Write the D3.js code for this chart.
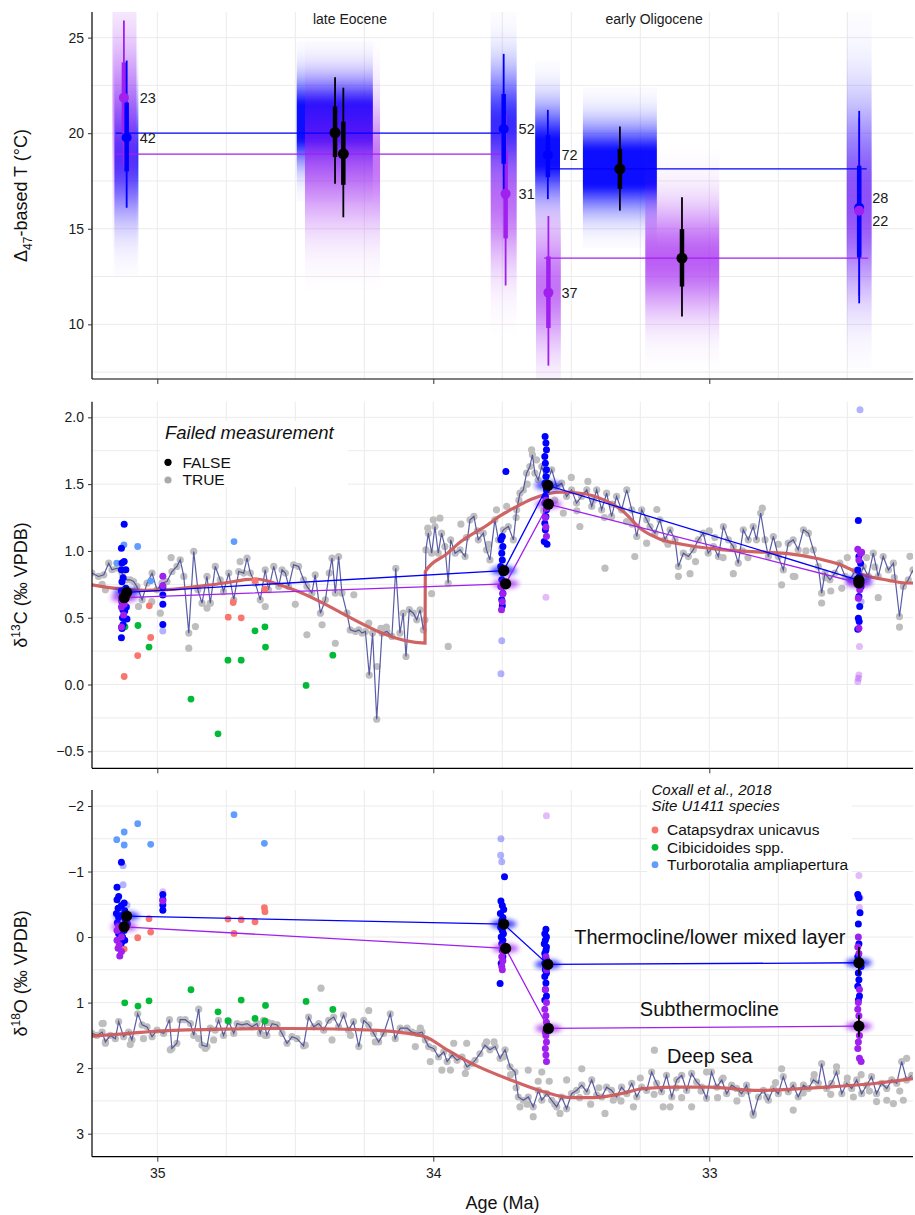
<!DOCTYPE html>
<html><head><meta charset="utf-8">
<script src="https://cdn.jsdelivr.net/npm/d3@7"></script>
<style>body{margin:0;background:#fff} svg{font-family:"Liberation Sans",Arial,Helvetica,sans-serif}</style>
</head><body><svg id="c" width="915" height="1215"></svg>
<script>
// ---------------- DATA ----------------
const ageTicks = [35, 34, 33];
const tTicks = [10, 15, 20, 25];
const c13Ticks = [-0.5, 0, 0.5, 1, 1.5, 2];
const o18Ticks = [-2, -1, 0, 1, 2, 3];
const epochLabels = [["late Eocene", 34.302], ["early Oligocene", 33.20]];

// Panel 1: [age, mean, lo95, lo66, hi66, hi95, n]
const thermoT = [[35.111,19.77,16.1,18.0,21.6,23.8,"42"],[33.745,20.22,16.6,18.4,22.05,24.15,"52"],[33.585,18.86,16.55,17.7,19.9,21.22,"72"],[32.457,16.1,11.1,13.5,18.3,21.17,"28"]];
const subT = [[35.121,21.86,18.2,20.0,23.7,25.9,"23"],[33.738,16.83,12.03,14.5,19.1,21.0,"31"],[33.583,11.66,7.84,9.81,13.55,15.67,"37"],[32.457,15.94,11.5,13.63,18.25,20.8,"22"]];
const epochT = [[34.356,20.03,17.35,18.75,21.4,22.93],[34.326,18.92,15.6,17.3,20.6,22.38],[33.324,18.13,15.95,17.09,19.18,20.35],[33.099,13.46,10.41,11.98,14.98,16.65]];
// bands: [age, half-width (Ma), mean, sd]
const thermoBands = [[35.112,0.0435,18.8,2.1],[34.357,0.138,20.6,1.4],[33.745,0.047,20.4,2.0],[33.586,0.045,19.0,1.6],[33.324,0.134,18.2,1.4],[32.457,0.045,17.2,3.2]];
const subBands = [[35.119,0.0435,21.3,2.9],[34.329,0.136,18.4,2.2],[33.745,0.047,16.4,2.3],[33.583,0.045,12.0,2.2],[33.098,0.134,13.4,1.9],[32.457,0.045,15.8,2.7]];
const thermoEpochLines = [[35.151,33.758,20.0],[33.577,32.430,18.13]];
const subEpochLines = [[35.151,33.752,18.9],[33.598,32.424,13.46]];

// Panel 2: deep-sea d13C record
const deep13 = [[35.237,0.834],[35.213,0.809],[35.194,0.821],[35.176,0.908],[35.164,0.859],[35.146,0.871],[35.128,0.834],[35.110,0.784],[35.098,0.784],[35.086,0.771],[35.074,0.734],[35.055,0.634],[35.037,0.759],[35.019,0.834],[35.001,0.709],[34.983,0.759],[34.965,0.771],[34.947,0.846],[34.929,0.884],[34.917,0.933],[34.904,0.809],[34.886,0.385],[34.868,0.996],[34.853,0.709],[34.838,0.609],[34.820,0.809],[34.808,0.609],[34.790,0.884],[34.772,0.784],[34.760,0.696],[34.741,0.834],[34.723,0.634],[34.705,0.846],[34.687,0.834],[34.675,0.946],[34.663,0.834],[34.645,0.759],[34.627,0.634],[34.609,0.859],[34.597,0.709],[34.578,0.884],[34.560,0.734],[34.548,0.859],[34.536,0.834],[34.524,0.734],[34.506,0.896],[34.488,0.884],[34.470,0.784],[34.458,0.734],[34.440,0.684],[34.428,0.821],[34.409,0.534],[34.391,0.634],[34.377,0.834],[34.367,0.946],[34.355,0.684],[34.343,0.958],[34.331,0.684],[34.313,0.534],[34.301,0.409],[34.282,0.397],[34.270,0.409],[34.258,0.385],[34.246,0.397],[34.232,0.07],[34.220,0.385],[34.205,-0.26],[34.186,0.385],[34.168,0.397],[34.150,0.360],[34.136,0.87],[34.121,0.385],[34.109,0.534],[34.099,0.21],[34.087,0.56],[34.072,0.534],[34.060,0.484],[34.048,0.559],[34.036,0.409],[34.030,0.484],[34.027,1.008],[34.018,1.133],[34.006,0.983],[33.994,1.183],[33.982,0.983],[33.970,1.133],[33.958,1.033],[33.946,0.759],[33.937,1.083],[33.921,0.983],[33.903,1.008],[33.885,0.958],[33.867,1.233],[33.853,1.258],[33.837,1.083],[33.819,1.133],[33.807,1.008],[33.795,0.933],[33.777,1.233],[33.764,1.083],[33.746,1.158],[33.728,1.183],[33.710,1.083],[33.698,1.308],[33.686,1.432],[33.674,1.457],[33.662,1.582],[33.650,1.632],[33.641,1.719],[33.632,1.582],[33.620,1.532],[33.607,1.632],[33.589,1.507],[33.571,1.607],[33.553,1.482],[33.535,1.507],[33.517,1.408],[33.499,1.457],[33.481,1.358],[33.463,1.408],[33.444,1.457],[33.426,1.333],[33.408,1.457],[33.390,1.308],[33.372,1.432],[33.354,1.258],[33.336,1.408],[33.318,1.308],[33.299,1.457],[33.281,1.308],[33.263,1.108],[33.245,1.308],[33.227,1.233],[33.215,1.183],[33.197,1.133],[33.179,1.233],[33.161,1.083],[33.142,1.158],[33.124,1.083],[33.112,0.883],[33.094,0.983],[33.076,0.958],[33.058,1.008],[33.040,1.083],[33.022,1.133],[33.004,0.983],[32.985,1.033],[32.967,0.958],[32.949,1.183],[32.931,1.083],[32.913,1.033],[32.895,0.908],[32.877,1.158],[32.859,1.083],[32.841,1.183],[32.829,1.083],[32.814,1.283],[32.798,1.083],[32.786,0.958],[32.768,1.108],[32.750,0.958],[32.732,0.858],[32.714,1.058],[32.696,1.083],[32.678,1.008],[32.659,1.158],[32.641,1.133],[32.623,1.008],[32.605,0.883],[32.593,0.684],[32.581,0.834],[32.563,0.784],[32.545,0.834],[32.527,0.908],[32.508,0.809],[32.490,0.784],[32.472,0.850],[32.455,0.800],[32.442,0.883],[32.424,0.809],[32.406,0.983],[32.388,0.809],[32.370,0.958],[32.351,0.858],[32.333,0.908],[32.311,0.509],[32.297,0.734],[32.279,0.784],[32.262,0.858]];
const deep13Extra = [[35.188,0.709],[35.068,0.584],[34.989,0.534],[34.886,0.272],[34.862,0.434],[34.820,0.572],[34.609,0.584],[34.458,0.372],[34.403,0.447],[34.355,0.309],[34.288,0.672],[34.234,0.459],[34.204,0.135],[34.190,0.42],[34.170,0.43],[33.946,0.285],[34.006,0.68],[34.020,1.17],[34.000,1.233],[33.976,1.245],[33.771,1.308],[33.734,1.333],[33.644,1.757],[33.626,1.682],[33.660,1.50],[33.690,1.38],[33.529,1.283],[33.469,1.183],[33.500,1.55],[33.440,1.52],[33.378,0.871],[33.380,1.25],[33.270,0.958],[33.227,1.058],[33.190,1.31],[33.112,0.81],[33.070,0.83],[32.913,0.83],[32.808,1.32],[32.738,0.746],[32.696,0.81],[32.690,0.808],[32.593,0.61],[32.388,0.65],[32.311,0.43],[32.273,0.96],[32.950,0.95],[33.000,1.15],[32.860,0.95],[32.500,0.95],[32.560,0.70],[32.430,0.95],[33.300,1.22],[33.560,1.38],[33.600,1.30],[33.840,1.15],[33.900,1.20],[34.500,0.60],[34.700,0.92],[34.950,0.95],[35.200,0.75],[35.020,0.62],[33.48,1.30],[33.42,1.38],[33.35,1.35],[33.28,1.20],[33.15,1.05],[33.05,0.92],[32.98,1.10],[32.88,1.00],[32.75,1.05],[32.65,1.00],[32.58,0.80],[32.52,0.72],[32.40,0.88],[32.33,0.80],[33.70,1.25],[33.80,1.05],[33.88,1.10]];
const smooth13 = [[35.237,0.746],[35.15,0.72],[35.05,0.705],[34.95,0.712],[34.85,0.735],[34.75,0.762],[34.68,0.785],[34.64,0.79],[34.60,0.775],[34.52,0.72],[34.03,0.31],[34.029,0.846],[33.95,0.98],[33.90,1.07],[33.80,1.20],[33.76,1.26],[33.70,1.33],[33.64,1.39],[33.58,1.43],[33.54,1.44],[33.46,1.43],[33.38,1.38],[33.32,1.31],[33.245,1.16],[33.18,1.09],[33.10,1.05],[32.955,1.01],[32.80,0.99],[32.715,0.98],[32.60,0.94],[32.53,0.90],[32.44,0.82],[32.35,0.78],[32.29,0.76],[32.262,0.76]];
const catapsydrax13 = [[35.029,0.589],[35.024,0.352],[35.071,0.217],[35.120,0.06],[34.725,0.614],[34.743,0.504],[34.696,0.499],[34.646,0.776],[34.610,0.714]];
const cibicidoides13 = [[35.070,0.442],[35.117,0.432],[35.030,0.28],[34.878,-0.109],[34.780,-0.369],[34.744,0.182],[34.696,0.182],[34.646,0.402],[34.610,0.432],[34.608,0.28],[34.461,-0.007],[34.364,0.22]];
const turborotalia13 = [[35.121,1.046],[35.071,1.033],[35.024,0.776],[34.722,1.07],[35.147,0.909]];
const thermo13 = [[35.120,1.20],[35.130,1.02],[35.120,0.92],[35.128,0.91],[35.114,0.86],[35.130,0.86],[35.124,0.80],[35.128,0.77],[35.114,0.72],[35.130,0.70],[35.118,0.68],[35.128,0.62],[35.112,0.58],[35.125,0.56],[35.118,0.55],[35.126,0.50],[35.110,0.49],[35.124,0.45],[35.128,0.42],[35.130,0.35],[34.980,0.73],[34.980,0.67],[34.980,0.60],[34.980,0.45],[33.750,1.108],[33.755,1.083],[33.748,1.033],[33.752,0.983],[33.750,0.933],[33.756,0.883],[33.748,0.834],[33.752,0.784],[33.755,0.734],[33.748,0.684],[33.752,0.634],[33.750,0.589],[33.737,1.595],[33.595,1.857],[33.592,1.807],[33.590,1.757],[33.596,1.707],[33.594,1.657],[33.590,1.607],[33.592,1.557],[33.596,1.507],[33.590,1.457],[33.594,1.408],[33.596,1.358],[33.590,1.308],[33.592,1.258],[33.596,1.208],[33.594,1.158],[33.598,1.07],[33.588,1.05],[32.460,1.228],[32.458,0.958],[32.452,0.908],[32.462,0.858],[32.456,0.809],[32.450,0.734],[32.458,0.659],[32.455,0.584],[32.460,0.497],[32.457,0.472],[32.462,0.414]];
const sub13 = [[35.130,0.63],[35.120,0.60],[35.125,0.65],[35.130,0.58],[35.122,0.52],[35.130,0.43],[35.118,0.70],[35.128,0.66],[34.980,0.81],[34.980,0.74],[33.752,0.73],[33.748,0.68],[33.750,0.62],[33.753,0.56],[33.592,1.38],[33.590,1.32],[33.594,1.25],[33.592,1.18],[33.590,1.11],[32.462,1.013],[32.452,0.983],[32.448,0.99],[32.458,0.933],[32.455,0.709],[32.460,0.646],[32.458,0.422]];
const thermo13Failed = [[34.980,0.40],[33.752,1.02],[33.752,0.327],[33.755,0.08],[32.454,2.056],[32.450,0.62]];
const sub13Failed = [[33.592,0.654],[32.456,0.285],[32.458,0.072],[32.460,0.047],[32.462,0.022]];
const thermoMean13 = [[35.111,0.69],[33.745,0.853],[33.585,1.49],[32.458,0.78]];
const subMean13 = [[35.120,0.65],[33.738,0.754],[33.583,1.35],[32.458,0.76]];

// Panel 3: d18O
const deep18 = [[35.237,1.47],[35.219,1.50],[35.200,1.45],[35.188,1.60],[35.170,1.50],[35.152,1.55],[35.140,1.29],[35.122,1.52],[35.104,1.45],[35.092,1.57],[35.071,1.17],[35.055,1.34],[35.037,1.37],[35.019,1.52],[35.001,1.42],[34.977,1.47],[34.956,1.26],[34.947,1.70],[34.929,1.62],[34.917,1.26],[34.899,1.26],[34.880,1.32],[34.868,1.50],[34.850,1.10],[34.838,1.65],[34.820,1.67],[34.808,1.39],[34.790,1.42],[34.778,1.27],[34.760,1.50],[34.741,1.29],[34.723,1.47],[34.711,1.32],[34.693,1.34],[34.675,1.32],[34.657,1.37],[34.639,1.32],[34.627,1.47],[34.615,1.27],[34.603,1.50],[34.584,1.32],[34.566,1.34],[34.548,1.47],[34.530,1.62],[34.512,1.52],[34.494,1.55],[34.470,1.66],[34.452,1.22],[34.433,1.37],[34.415,1.32],[34.397,1.42],[34.379,1.27],[34.361,1.22],[34.343,1.37],[34.325,1.19],[34.307,1.42],[34.289,1.29],[34.270,1.67],[34.252,1.27],[34.234,1.34],[34.216,1.47],[34.198,1.60],[34.180,1.47],[34.156,1.17],[34.138,1.55],[34.120,1.39],[34.095,1.39],[34.077,1.45],[34.059,1.47],[34.041,1.45],[34.029,1.57],[34.017,1.67],[33.999,1.70],[33.981,1.83],[33.962,1.75],[33.950,1.90],[33.932,1.80],[33.914,1.88],[33.896,1.83],[33.878,1.98],[33.860,1.93],[33.849,1.88],[33.831,1.78],[33.813,1.65],[33.795,1.72],[33.776,1.67],[33.758,1.85],[33.740,1.72],[33.722,1.98],[33.704,2.06],[33.692,2.44],[33.674,2.49],[33.656,2.44],[33.638,2.59],[33.619,2.34],[33.607,2.49],[33.589,2.39],[33.571,2.49],[33.553,2.59],[33.535,2.44],[33.517,2.62],[33.499,2.39],[33.481,2.34],[33.462,2.26],[33.444,2.36],[33.426,2.18],[33.408,2.41],[33.390,2.44],[33.372,2.29],[33.354,2.34],[33.336,2.44],[33.318,2.29],[33.299,2.39],[33.281,2.23],[33.263,2.44],[33.245,2.29],[33.227,2.34],[33.209,2.06],[33.191,2.23],[33.173,2.36],[33.155,2.11],[33.136,2.44],[33.118,2.18],[33.100,2.11],[33.082,2.34],[33.064,2.08],[33.046,2.21],[33.028,2.29],[33.010,2.46],[32.992,2.06],[32.973,2.29],[32.955,2.18],[32.937,2.39],[32.919,2.26],[32.901,2.31],[32.883,2.39],[32.865,2.26],[32.841,2.72],[32.822,2.44],[32.804,2.34],[32.786,2.49],[32.768,2.31],[32.750,2.39],[32.732,2.13],[32.714,2.36],[32.696,2.26],[32.678,2.44],[32.659,2.26],[32.641,2.31],[32.623,2.18],[32.605,2.23],[32.593,1.93],[32.575,2.31],[32.557,2.23],[32.539,2.06],[32.520,2.39],[32.502,2.23],[32.484,2.31],[32.466,2.18],[32.448,2.39],[32.430,2.26],[32.412,2.13],[32.394,2.39],[32.376,2.23],[32.357,2.31],[32.339,2.18],[32.321,2.23],[32.303,1.90],[32.285,2.18],[32.267,2.11]];
const deep18Extra = [[35.200,1.32],[35.188,1.62],[35.098,1.64],[35.196,1.318],[35.093,1.57],[34.953,1.72],[34.826,1.70],[34.796,1.57],[34.609,1.50],[34.464,1.65],[34.407,0.78],[34.367,1.57],[34.234,1.12],[34.210,1.60],[34.065,1.67],[34.047,1.39],[34.011,1.90],[33.969,2.03],[33.938,2.03],[33.926,1.62],[33.884,2.08],[33.879,1.62],[33.807,1.60],[33.780,1.60],[33.746,1.83],[33.686,2.59],[33.656,2.03],[33.638,2.74],[33.607,2.06],[33.541,2.69],[33.517,2.18],[33.462,2.01],[33.378,2.69],[33.348,2.49],[33.275,2.59],[33.199,1.725],[33.167,2.59],[33.142,2.59],[33.064,2.59],[33.010,2.06],[32.841,2.69],[32.792,2.44],[32.738,2.01],[32.696,2.64],[32.539,1.98],[32.478,2.44],[32.394,2.51],[32.357,2.49],[32.333,2.54],[32.297,2.49],[32.285,1.85],[33.700,2.30],[33.580,2.20],[33.430,2.55],[33.250,2.15],[33.100,2.45],[32.950,2.15],[32.900,2.50],[32.620,2.10],[32.450,2.10],[34.300,1.50],[34.600,1.30],[34.850,1.55],[35.050,1.55],[33.66,2.55],[33.56,2.55],[33.47,2.45],[33.40,2.30],[33.32,2.50],[33.20,2.40],[33.12,2.30],[33.03,2.35],[32.97,2.45],[32.86,2.35],[32.76,2.22],[32.66,2.38],[32.56,2.40],[32.50,2.15],[32.42,2.35],[32.31,2.35],[33.72,2.10],[33.62,2.20]];
const smooth18 = [[35.237,1.51],[35.10,1.47],[35.00,1.435],[34.76,1.405],[34.52,1.395],[34.28,1.41],[34.15,1.44],[34.03,1.52],[33.95,1.72],[33.86,1.93],[33.78,2.08],[33.72,2.18],[33.60,2.36],[33.50,2.45],[33.42,2.45],[33.30,2.37],[33.24,2.31],[33.10,2.29],[33.00,2.29],[32.82,2.34],[32.70,2.32],[32.575,2.29],[32.394,2.23],[32.262,2.16]];
const catapsydrax18 = [[35.030,-0.28],[35.024,-0.076],[35.071,0.01],[35.120,0.183],[34.744,-0.275],[34.696,-0.265],[34.722,-0.056],[34.646,-0.234],[34.612,-0.448],[34.610,-0.387]];
const cibicidoides18 = [[35.118,1.003],[35.070,1.053],[35.030,0.972],[34.878,0.804],[34.780,1.14],[34.744,1.277],[34.696,0.962],[34.646,1.241],[34.608,1.043],[34.610,1.282],[34.461,0.982],[34.364,1.104]];
const turborotalia18 = [[35.147,-1.486],[35.120,-1.603],[35.120,-1.405],[35.071,-1.73],[35.024,-1.415],[34.722,-1.867],[34.612,-1.43]];
const thermo18 = [[35.130,-1.14],[35.146,-0.76],[35.140,-0.62],[35.146,-0.57],[35.120,-0.52],[35.130,-0.48],[35.142,-0.44],[35.118,-0.40],[35.148,-0.36],[35.128,-0.33],[35.140,-0.30],[35.116,-0.26],[35.145,-0.22],[35.124,-0.18],[35.134,-0.14],[35.120,-0.10],[35.140,-0.05],[35.126,0.0],[35.118,0.05],[35.130,0.09],[35.112,-0.28],[35.108,-0.20],[34.980,-0.65],[34.980,-0.57],[34.980,-0.49],[34.980,-0.41],[33.742,-0.92],[33.755,-0.55],[33.750,-0.48],[33.745,-0.42],[33.757,-0.36],[33.748,-0.30],[33.752,-0.25],[33.744,-0.20],[33.756,-0.15],[33.750,-0.10],[33.746,-0.05],[33.754,0.0],[33.748,0.05],[33.752,0.10],[33.750,0.20],[33.748,0.30],[33.754,0.40],[33.758,0.71],[33.592,-0.12],[33.596,-0.05],[33.590,0.0],[33.594,0.05],[33.598,0.10],[33.590,0.15],[33.592,0.20],[33.596,0.25],[33.594,0.30],[33.590,0.35],[33.596,0.40],[33.592,0.45],[33.594,0.50],[33.590,0.55],[33.596,0.60],[33.592,0.70],[33.594,0.80],[33.590,0.90],[33.596,0.96],[32.462,-0.65],[32.458,-0.60],[32.454,-0.37],[32.460,-0.20],[32.458,0.10],[32.462,0.30],[32.456,0.40],[32.450,0.45],[32.460,0.55],[32.458,0.65],[32.462,0.75],[32.456,0.90],[32.460,0.96]];
const sub18 = [[35.140,-0.16],[35.146,-0.10],[35.130,0.0],[35.146,0.05],[35.138,0.12],[35.142,0.17],[35.130,0.22],[35.136,0.29],[34.980,-0.55],[33.750,0.15],[33.746,0.22],[33.752,0.30],[33.748,0.36],[33.752,0.45],[33.750,0.50],[33.592,0.30],[33.590,0.50],[33.594,0.80],[33.590,1.0],[33.596,1.1],[33.592,1.2],[33.590,1.3],[33.594,1.45],[33.592,1.5],[33.590,1.6],[33.594,1.7],[33.592,1.8],[33.590,1.9],[32.460,0.0],[32.462,0.15],[32.458,0.25],[32.456,0.8],[32.460,1.0],[32.462,1.1],[32.458,1.2],[32.456,1.5],[32.460,1.6],[32.462,1.7],[32.456,1.85],[32.450,1.9]];
const thermo18Failed = [[35.124,-1.09],[35.124,-0.80],[35.110,-0.49],[33.755,-1.5],[33.756,-1.25],[33.752,-1.15],[32.454,-0.6]];
const sub18Failed = [[34.980,-0.69],[33.590,-1.85],[32.458,-0.94],[32.456,-0.45]];
const thermoMean18 = [[35.111,-0.32],[33.745,-0.198],[33.585,0.417],[32.458,0.392]];
const subMean18 = [[35.120,-0.157],[33.738,0.173],[33.583,1.394],[32.458,1.359]];
const meanErr18 = [[32.458,0.15,0.58],[32.458,1.19,1.52]];
const layerLabels = [["Thermocline/lower mixed layer",32.998,0.0],["Subthermocline",33.0,1.10],["Deep sea",32.998,1.81]];
const speciesNames = ["Catapsydrax unicavus","Cibicidoides spp.","Turborotalia ampliapertura"];

// ---------------- DRAW ----------------
const BLUE = "#0000ff", PURPLE = "#a020f0";
const spColors = ["#F8766D","#00BA38","#619CFF"];
const L = 92, R = 913;
const svg = d3.select("#c");
svg.append("rect").attr("width",915).attr("height",1215).attr("fill","#fff");
const defs = svg.append("defs");
defs.append("filter").attr("id","blur").attr("x","-50%").attr("y","-100%").attr("width","200%").attr("height","300%")
  .append("feGaussianBlur").attr("stdDeviation",2.5);

const x = d3.scaleLinear().domain([35.2366, 32.262]).range([L, R]);
const panels = [
  {y: d3.scaleLinear().domain([7.14, 26.34]).range([379, 12]), top: 12, bot: 379, grid: d3.range(7.5, 26.1, 2.5), ticks: tTicks, fmt: d3.format("d")},
  {y: d3.scaleLinear().domain([-0.627, 2.117]).range([768.3, 401.7]), top: 401.7, bot: 768.3, grid: d3.range(-0.5, 2.01, 0.25), ticks: c13Ticks, fmt: d3.format(".1f")},
  {y: d3.scaleLinear().domain([-2.244, 3.351]).range([790, 1156.7]), top: 790, bot: 1156.7, grid: d3.range(-2, 3.01, 0.5), ticks: o18Ticks, fmt: d3.format("d")}
];
const vgrid = d3.range(35.25, 32.2, -0.25).filter(a => x(a) >= L && x(a) <= R);

panels.forEach((p, i) => {
  const g = svg.append("g");
  g.selectAll("line.h").data(p.grid).join("line").attr("x1", L).attr("x2", R)
    .attr("y1", d => p.y(d)).attr("y2", d => p.y(d)).attr("stroke", "#ebebeb").attr("stroke-width", 1);
  g.selectAll("line.v").data(vgrid).join("line").attr("y1", p.top).attr("y2", p.bot)
    .attr("x1", d => x(d)).attr("x2", d => x(d)).attr("stroke", "#ebebeb").attr("stroke-width", 1);
  defs.append("clipPath").attr("id", "clip" + i).append("rect").attr("x", L).attr("y", p.top).attr("width", R - L).attr("height", p.bot - p.top);
  p.g = svg.append("g").attr("clip-path", `url(#clip${i})`);
});

// ---- Panel 1 ----
const p1 = panels[0], y1 = p1.y, g1 = p1.g;
function band(arr, color, maxA, key) {
  arr.forEach((b, k) => {
    const [age, hw, m, sd] = b;
    const top = y1(m + 3 * sd), bot = y1(m - 3 * sd);
    const id = "bg" + key + k;
    const gr = defs.append("linearGradient").attr("id", id).attr("gradientUnits", "userSpaceOnUse")
      .attr("x1", 0).attr("x2", 0).attr("y1", top).attr("y2", bot);
    for (let s = 0; s <= 40; s++) {
      const z = -3 + 6 * s / 40;
      const a = Math.min(1, (1.75 / sd) * Math.exp(-0.5 * z * z)) * maxA;
      gr.append("stop").attr("offset", s / 40).attr("stop-color", color).attr("stop-opacity", a);
    }
    g1.append("rect").attr("x", x(age + hw)).attr("width", x(age - hw) - x(age + hw))
      .attr("y", top).attr("height", bot - top).attr("fill", `url(#${id})`);
  });
}
band(thermoBands, BLUE, 0.95, "t");
band(subBands, PURPLE, 0.78, "s");

function hlines(g, arr, y, color) {
  g.selectAll(null).data(arr).join("line").attr("x1", d => x(d[0])).attr("x2", d => x(d[1]))
    .attr("y1", d => y(d[2])).attr("y2", d => y(d[2])).attr("stroke", color).attr("stroke-width", 1.3);
}
hlines(g1, thermoEpochLines, y1, BLUE);
hlines(g1, subEpochLines, y1, PURPLE);

function ebars(arr, color) {
  g1.selectAll(null).data(arr).join("line").attr("x1", d => x(d[0])).attr("x2", d => x(d[0]))
    .attr("y1", d => y1(d[2])).attr("y2", d => y1(d[5])).attr("stroke", color).attr("stroke-width", 1.8);
  g1.selectAll(null).data(arr).join("line").attr("x1", d => x(d[0])).attr("x2", d => x(d[0]))
    .attr("y1", d => y1(d[3])).attr("y2", d => y1(d[4])).attr("stroke", color).attr("stroke-width", 4.5);
}
function edots(arr, color, r) {
  g1.selectAll(null).data(arr).join("circle").attr("cx", d => x(d[0])).attr("cy", d => y1(d[1]))
    .attr("r", r).attr("fill", color);
}
ebars(subT, PURPLE); ebars(thermoT, BLUE); ebars(epochT, "#000");
edots(thermoT, BLUE, 5); edots(subT, PURPLE, 5); edots(epochT, "#000", 5.5);

// sample size labels
thermoT.forEach((t, k) => {
  const s = subT[k];
  let yt = y1(t[1]), ys = y1(s[1]);
  if (Math.abs(yt - ys) < 20) { const m = (yt + ys) / 2; yt = m - 11.5; ys = m + 11.5; }
  const lx = Math.max(x(t[0]), x(s[0])) + 13;
  [[t[6], yt], [s[6], ys]].forEach(([txt, yy]) => {
    svg.append("text").attr("x", lx).attr("y", yy).attr("dy", "0.35em").attr("font-size", 14.5).attr("fill", "#1a1a1a").text(txt);
  });
});
svg.selectAll(null).data(epochLabels).join("text").attr("x", d => x(d[1])).attr("y", 19).attr("dy", "0.35em")
  .attr("text-anchor", "middle").attr("font-size", 14).attr("fill", "#1a1a1a").text(d => d[0]);

// ---- Panels 2 & 3 common ----
function isoPanel(p, deep, deepExtra, smooth, sp, thermo, sub, thermoF, subF, tMean, sMean) {
  const g = p.g, y = p.y;
  g.selectAll(null).data(deep.concat(deepExtra)).join("circle").attr("cx", d => x(d[0])).attr("cy", d => y(d[1]))
    .attr("r", 3.6).attr("fill", "#bebebe");
  g.append("path").datum(deep).attr("d", d3.line().x(d => x(d[0])).y(d => y(d[1])))
    .attr("fill", "none").attr("stroke", "#474b9a").attr("stroke-width", 1.2).attr("opacity", 0.9);
  g.append("path").datum(smooth).attr("d", d3.line().x(d => x(d[0])).y(d => y(d[1])).curve(d3.curveMonotoneX))
    .attr("fill", "none").attr("stroke", "#cd5c5c").attr("stroke-width", 3.2).attr("opacity", 0.95);
  sp.forEach((arr, k) => {
    g.selectAll(null).data(arr).join("circle").attr("cx", d => x(d[0])).attr("cy", d => y(d[1]))
      .attr("r", 3.4).attr("fill", spColors[k]);
  });
  const dots = (arr, c, op) => g.selectAll(null).data(arr).join("circle").attr("cx", d => x(d[0])).attr("cy", d => y(d[1]))
    .attr("r", 3.5).attr("fill", c).attr("opacity", op);
  dots(thermoF, BLUE, 0.3); dots(subF, PURPLE, 0.3);
  dots(thermo, BLUE, 1); dots(sub, PURPLE, 1);
  const glow = (arr, c) => g.selectAll(null).data(arr).join("ellipse").attr("cx", d => x(d[0])).attr("cy", d => y(d[1]))
    .attr("rx", 13).attr("ry", 4.5).attr("fill", c).attr("opacity", 0.75).attr("filter", "url(#blur)");
  glow(tMean, BLUE); glow(sMean, PURPLE);
  const ln = d3.line().x(d => x(d[0])).y(d => y(d[1]));
  g.append("path").datum(tMean).attr("d", ln).attr("fill", "none").attr("stroke", BLUE).attr("stroke-width", 1.3);
  g.append("path").datum(sMean).attr("d", ln).attr("fill", "none").attr("stroke", PURPLE).attr("stroke-width", 1.3);
  g.selectAll(null).data(tMean.concat(sMean)).join("circle").attr("cx", d => x(d[0])).attr("cy", d => y(d[1]))
    .attr("r", 5.6).attr("fill", "#000");
}
isoPanel(panels[1], deep13, deep13Extra, smooth13, [catapsydrax13, cibicidoides13, turborotalia13],
  thermo13, sub13, thermo13Failed, sub13Failed, thermoMean13, subMean13);
isoPanel(panels[2], deep18, deep18Extra, smooth18, [catapsydrax18, cibicidoides18, turborotalia18],
  thermo18, sub18, thermo18Failed, sub18Failed, thermoMean18, subMean18);
panels[2].g.selectAll(null).data(meanErr18).join("line").attr("x1", d => x(d[0])).attr("x2", d => x(d[0]))
  .attr("y1", d => panels[2].y(d[1])).attr("y2", d => panels[2].y(d[2])).attr("stroke", "#000").attr("stroke-width", 1.8);

// Failed measurement legend
const lg = svg.append("g");
lg.append("rect").attr("x", 160).attr("y", 421).attr("width", 188).attr("height", 66).attr("fill", "#fff");
lg.append("text").attr("x", 165).attr("y", 433).attr("dy", "0.35em").attr("font-size", 18.5).attr("font-style", "italic").attr("fill", "#111").text("Failed measurement");
[["FALSE", "#000"], ["TRUE", "#aaaaaa"]].forEach(([t, c], k) => {
  lg.append("circle").attr("cx", 168).attr("cy", 462.3 + k * 17.7).attr("r", 3.6).attr("fill", c);
  lg.append("text").attr("x", 182.5).attr("y", 462.3 + k * 17.7).attr("dy", "0.35em").attr("font-size", 15.5).attr("fill", "#111").text(t);
});

// species legend
const sg = svg.append("g");
sg.append("rect").attr("x", 647).attr("y", 779).attr("width", 205).attr("height", 93).attr("fill", "#fff");
sg.append("text").attr("x", 651.5).attr("y", 789.3).attr("dy", "0.35em").attr("font-size", 15).attr("font-style", "italic").attr("fill", "#111").text("Coxall et al., 2018");
sg.append("text").attr("x", 651.5).attr("y", 805.7).attr("dy", "0.35em").attr("font-size", 15).attr("font-style", "italic").attr("fill", "#111").text("Site U1411 species");
speciesNames.forEach((n, k) => {
  sg.append("circle").attr("cx", 655).attr("cy", 830 + k * 17.35).attr("r", 3.4).attr("fill", spColors[k]);
  sg.append("text").attr("x", 667).attr("y", 830 + k * 17.35).attr("dy", "0.35em").attr("font-size", 15.5).attr("fill", "#111").text(n);
});

// layer labels
svg.selectAll(null).data(layerLabels).join("text").attr("x", d => x(d[1])).attr("y", d => panels[2].y(d[2]))
  .attr("dy", "0.35em").attr("text-anchor", "middle").attr("font-size", 20).attr("fill", "#111").text(d => d[0]);

// ---- Axes ----
panels.forEach((p, i) => {
  const ay = svg.append("g").attr("transform", `translate(${L},0)`)
    .call(d3.axisLeft(p.y).tickValues(p.ticks).tickFormat(p.fmt).tickSize(4).tickPadding(4).tickSizeOuter(0));
  ay.select(".domain").attr("d", `M0,${p.top}V${p.bot}`).attr("stroke", "#000").attr("stroke-width", 1.2);
  ay.selectAll(".tick line").attr("stroke", "#333");
  ay.selectAll("text").attr("font-size", 14).attr("fill", "#1a1a1a").attr("font-family", "Liberation Sans, Arial, sans-serif");
  const ax = svg.append("g").attr("transform", `translate(0,${p.bot})`)
    .call(d3.axisBottom(x).tickValues(ageTicks).tickSize(5).tickPadding(6).tickSizeOuter(0).tickFormat(i === 2 ? d3.format("d") : ""));
  ax.select(".domain").attr("d", `M${L},0H${R}`).attr("stroke", "#000").attr("stroke-width", 1.2);
  ax.selectAll(".tick line").attr("stroke", "#333");
  ax.selectAll("text").attr("font-size", 14).attr("fill", "#1a1a1a").attr("font-family", "Liberation Sans, Arial, sans-serif");
});

// axis titles
function ytitle(cy, parts) {
  const t = svg.append("text").attr("transform", `translate(27,${cy}) rotate(-90)`).attr("text-anchor", "middle")
    .attr("dy", "0.35em").attr("font-size", 18).attr("fill", "#111");
  parts.forEach(([txt, dy, fs]) => t.append("tspan").attr("dy", dy).attr("font-size", fs).text(txt));
}
ytitle((12 + 379) / 2, [["Δ", 0, 18], ["47", 5, 12], ["-based T (°C)", -5, 18]]);
ytitle((401.7 + 768.3) / 2, [["δ", 0, 18], ["13", -7, 12], ["C (‰ VPDB)", 7, 18]]);
ytitle((790 + 1156.7) / 2, [["δ", 0, 18], ["18", -7, 12], ["O (‰ VPDB)", 7, 18]]);
svg.append("text").attr("x", (L + R) / 2).attr("y", 1203).attr("dy", "0.35em").attr("text-anchor", "middle")
  .attr("font-size", 18).attr("fill", "#111").text("Age (Ma)");
</script></body></html>
